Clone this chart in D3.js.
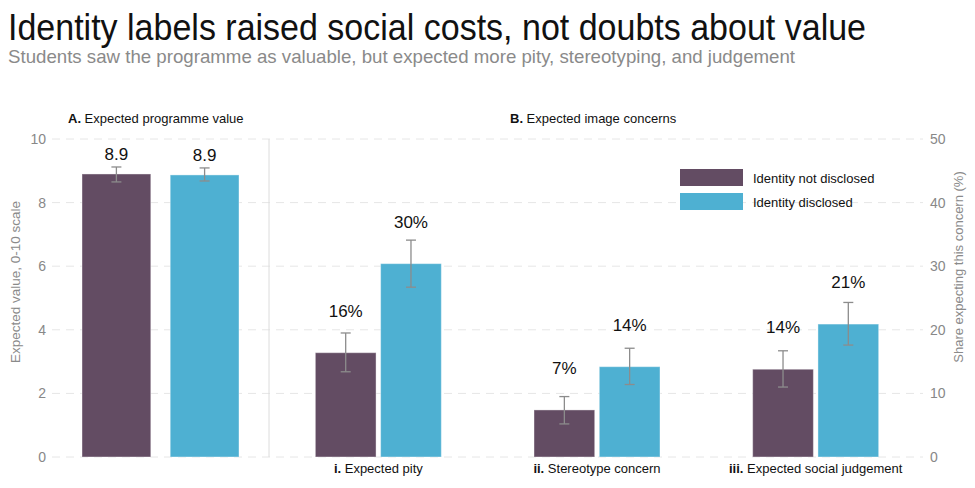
<!DOCTYPE html>
<html>
<head>
<meta charset="utf-8">
<script src="https://cdn.jsdelivr.net/npm/d3@7"></script>
<style>
  body { margin: 0; background: #fff; }
  text { font-family: "Liberation Sans", Arial, sans-serif; }
  .narrow { font-family: "Liberation Sans Narrow", "Arial Narrow", "Liberation Sans", sans-serif; }
</style>
</head>
<body>
<div id="app"></div>
<script>
// data
const groups = ['Identity not disclosed', 'Identity disclosed']
const valueMean = [8.9, 8.87]
const valueLo = [8.65, 8.68]
const valueHi = [9.12, 9.09]
const valueLabels = ['8.9', '8.9']

const concernPrefix = ['i.', 'ii.', 'iii.']
const concerns = ['Expected pity', 'Stereotype concern', 'Expected social judgement']
const concernNot = [16.4, 7.4, 13.8]
const concernNotLo = [13.4, 5.2, 11.0]
const concernNotHi = [19.5, 9.5, 16.7]
const concernYes = [30.4, 14.2, 20.9]
const concernYesLo = [26.7, 11.4, 17.6]
const concernYesHi = [34.1, 17.1, 24.3]
const concernLabelsNot = ['16%', '7%', '14%']
const concernLabelsYes = ['30%', '14%', '21%']

const leftTicks = [0, 2, 4, 6, 8, 10]
const rightTicks = [0, 10, 20, 30, 40, 50]

const W = 975, H = 488
const color = d3.scaleOrdinal().domain(groups).range(['#634c63', '#4eb0d2'])

const svg = d3.select('#app').append('svg').attr('width', W).attr('height', H)

const plotTop = 139, plotBottom = 457, plotLeft = 52, plotRight = 923, divider = 269

const yL = d3.scaleLinear().domain([0, 10]).range([plotBottom, plotTop])
const yR = d3.scaleLinear().domain([0, 50]).range([plotBottom, plotTop])

// title
svg.append('text').attr('class', 'narrow').attr('x', 8).attr('y', 40).attr('font-size', 37).attr('fill', '#111')
  .attr('textLength', 858).attr('lengthAdjust', 'spacingAndGlyphs')
  .text('Identity labels raised social costs, not doubts about value')
svg.append('text').attr('class', 'narrow').attr('x', 8).attr('y', 63).attr('font-size', 19).attr('fill', '#8a8a8a')
  .attr('textLength', 787).attr('lengthAdjust', 'spacingAndGlyphs')
  .text('Students saw the programme as valuable, but expected more pity, stereotyping, and judgement')

// grid
svg.append('g').selectAll('line').data(leftTicks).join('line')
  .attr('x1', plotLeft).attr('x2', plotRight)
  .attr('y1', d => yL(d)).attr('y2', d => yL(d))
  .attr('stroke', '#e6e6e6').attr('stroke-dasharray', '8,6')

// axes
const axL = svg.append('g').attr('transform', `translate(${plotLeft - 6},0)`)
  .call(d3.axisLeft(yL).tickValues(leftTicks).tickSize(0).tickPadding(0))
axL.select('.domain').remove()
axL.selectAll('text').attr('font-size', 14).attr('fill', '#888').style('font-family', 'Liberation Sans, Arial, sans-serif')

const axR = svg.append('g').attr('transform', `translate(${plotRight + 7},0)`)
  .call(d3.axisRight(yR).tickValues(rightTicks).tickSize(0).tickPadding(0))
axR.select('.domain').remove()
axR.selectAll('text').attr('font-size', 14).attr('fill', '#888').style('font-family', 'Liberation Sans, Arial, sans-serif')

svg.append('text').attr('transform', `translate(20,282) rotate(-90)`)
  .attr('text-anchor', 'middle').attr('font-size', 13.5).attr('fill', '#8a8a8a')
  .text('Expected value, 0-10 scale')
svg.append('text').attr('transform', `translate(963,267) rotate(-90)`)
  .attr('text-anchor', 'middle').attr('font-size', 13).attr('fill', '#8a8a8a')
  .text('Share expecting this concern (%)')

// divider
svg.append('line').attr('x1', divider).attr('x2', divider).attr('y1', plotTop).attr('y2', plotBottom)
  .attr('stroke', '#dcdcdc')

// panel titles
const pA = svg.append('text').attr('x', 68).attr('y', 123).attr('font-size', 13).attr('fill', '#111')
pA.append('tspan').attr('font-weight', 'bold').text('A.')
pA.append('tspan').text(' Expected programme value')
const pB = svg.append('text').attr('x', 510).attr('y', 123).attr('font-size', 13).attr('fill', '#111')
pB.append('tspan').attr('font-weight', 'bold').text('B.')
pB.append('tspan').text(' Expected image concerns')

// error bar helper
function errBar(g, x, y1, y2) {
  g.append('line').attr('x1', x).attr('x2', x).attr('y1', y1).attr('y2', y2)
  g.append('line').attr('x1', x - 5).attr('x2', x + 5).attr('y1', y1).attr('y2', y1)
  g.append('line').attr('x1', x - 5).attr('x2', x + 5).attr('y1', y2).attr('y2', y2)
}

// panel A
const xA = d3.scaleBand().domain(groups).range([82, 239]).paddingInner(0.22)
const gA = svg.append('g')
gA.selectAll('rect').data(groups).join('rect')
  .attr('x', d => xA(d)).attr('width', xA.bandwidth())
  .attr('y', (d, i) => yL(valueMean[i])).attr('height', (d, i) => plotBottom - yL(valueMean[i]))
  .attr('fill', d => color(d)).attr('stroke', '#fff').attr('stroke-opacity', 0.4)
const eA = gA.append('g').attr('stroke', '#8c8c8c').attr('stroke-width', 1.3)
groups.forEach((d, i) => errBar(eA, xA(d) + xA.bandwidth() / 2, yL(valueHi[i]), yL(valueLo[i])))
gA.selectAll('text.val').data(groups).join('text').attr('class', 'val')
  .attr('x', d => xA(d) + xA.bandwidth() / 2).attr('y', (d, i) => yL(valueMean[i]) - 14)
  .attr('text-anchor', 'middle').attr('font-size', 17).attr('fill', '#111')
  .text((d, i) => valueLabels[i])

// panel B
const xB = d3.scaleBand().domain(concerns).range([divider, plotRight + 2])
const xSub = d3.scaleBand().domain(groups).range([0, 126]).paddingInner(0.07)
const off = (xB.bandwidth() - 126) / 2
const rows = concerns.flatMap((c, i) => [
  { c, g: groups[0], v: concernNot[i], lo: concernNotLo[i], hi: concernNotHi[i], lab: concernLabelsNot[i] },
  { c, g: groups[1], v: concernYes[i], lo: concernYesLo[i], hi: concernYesHi[i], lab: concernLabelsYes[i] }
])
const bx = d => xB(d.c) + off + xSub(d.g)
const gB = svg.append('g')
gB.selectAll('rect').data(rows).join('rect')
  .attr('x', bx).attr('width', xSub.bandwidth())
  .attr('y', d => yR(d.v)).attr('height', d => plotBottom - yR(d.v))
  .attr('fill', d => color(d.g)).attr('stroke', '#fff').attr('stroke-opacity', 0.4)
const eB = gB.append('g').attr('stroke', '#8c8c8c').attr('stroke-width', 1.3)
rows.forEach(d => errBar(eB, bx(d) + xSub.bandwidth() / 2, yR(d.hi), yR(d.lo)))
gB.selectAll('text.val').data(rows).join('text').attr('class', 'val')
  .attr('x', d => bx(d) + xSub.bandwidth() / 2).attr('y', d => yR(d.v) - 36)
  .attr('text-anchor', 'middle').attr('font-size', 17).attr('fill', '#111')
  .text(d => d.lab)

// category labels
const cl = svg.append('g').selectAll('text').data(concerns).join('text')
  .attr('x', d => xB(d) + xB.bandwidth() / 2).attr('y', 473)
  .attr('text-anchor', 'middle').attr('font-size', 13).attr('fill', '#111')
cl.append('tspan').attr('font-weight', 'bold').text((d, i) => concernPrefix[i])
cl.append('tspan').text(d => ' ' + d)

// legend
const lg = svg.append('g').attr('transform', 'translate(680,169)')
lg.selectAll('rect').data(groups).join('rect')
  .attr('x', 0).attr('y', (d, i) => i * 24).attr('width', 63).attr('height', 17)
  .attr('fill', d => color(d))
lg.selectAll('text').data(groups).join('text')
  .attr('x', 73).attr('y', (d, i) => i * 24 + 13.5).attr('font-size', 13).attr('fill', '#111')
  .text(d => d)
</script>
</body>
</html>
